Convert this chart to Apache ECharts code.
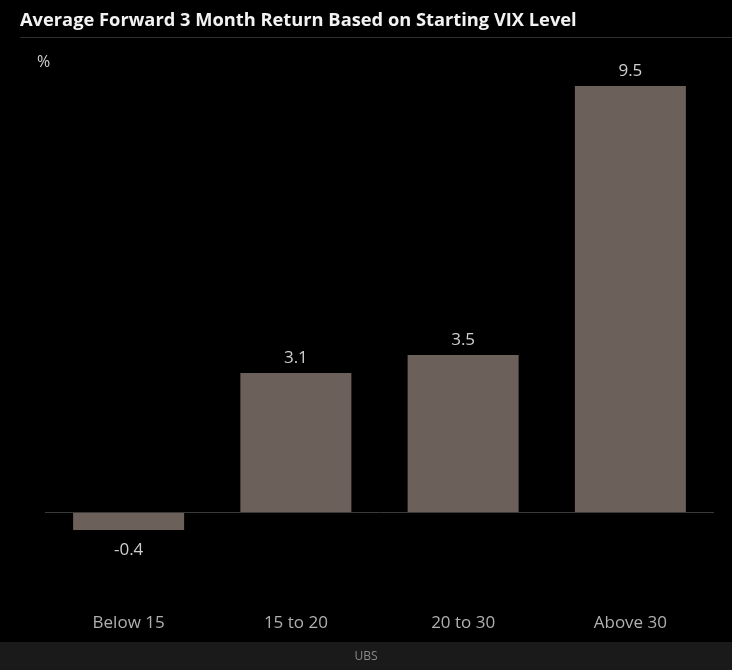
<!DOCTYPE html>
<html><head><meta charset="utf-8">
<script src="https://cdn.jsdelivr.net/npm/echarts@6/dist/echarts.min.js"></script>
<style>html,body{margin:0;padding:0;background:#000;}#c{width:732px;height:670px;}</style>
</head><body><div id="c"></div>
<script>
const categories = ['Below 15', '15 to 20', '20 to 30', 'Above 30'];
const values = [-0.4, 3.1, 3.5, 9.5];
const titleText = 'Average Forward 3 Month Return Based on Starting VIX Level';
const unitText = '%';
const sourceText = 'UBS';

const chart = echarts.init(document.getElementById('c'), null, {renderer: 'canvas'});
const font = '"Open Sans", "Noto Sans", sans-serif';
const seriesData = values.map(v => v < 0 ? {value: v, label: {position: 'bottom', distance: 12}} : v);
chart.setOption({
  backgroundColor: '#000',
  animation: false,
  title: {
    text: titleText, left: 20, top: 12, padding: 0,
    textStyle: {color: '#f2f2f2', fontSize: 18.3, fontWeight: 'bold', fontFamily: font}
  },
  graphic: [
    {type: 'rect', shape: {x: 20, y: 37, width: 712, height: 1}, style: {fill: '#2e2e2e'}, silent: true},
    {type: 'rect', shape: {x: 0, y: 642, width: 732, height: 28}, style: {fill: '#1a1a1a'}, silent: true},
    {type: 'text', left: 37, top: 54, style: {text: unitText, fill: '#d0d0d0', fontSize: 16, fontFamily: font}},
    {type: 'text', left: 'center', top: 651, style: {text: sourceText, fill: '#8a8a8a', fontSize: 12, fontFamily: font}}
  ],
  grid: {left: 45, right: 18, top: 86, bottom: 68.3},
  xAxis: {
    type: 'category', data: categories,
    axisLine: {show: false}, axisTick: {show: false},
    axisLabel: {color: '#b0b0b0', fontSize: 17, margin: 13, fontFamily: font}
  },
  yAxis: {
    type: 'value', min: -2, max: 9.5,
    show: false, splitLine: {show: false}
  },
  series: [{
    type: 'bar', data: seriesData, barWidth: 111,
    itemStyle: {color: '#6b605a'},
    label: {
      show: true, color: '#cfcfcf', fontSize: 17, fontFamily: font,
      position: 'top', distance: 6,
      formatter: p => p.value.toFixed(1)
    },
    markLine: {
      silent: true, symbol: 'none', label: {show: false},
      lineStyle: {color: '#3a3a3a', width: 1, type: 'solid'},
      data: [{yAxis: 0}]
    }
  }]
});
</script></body></html>
